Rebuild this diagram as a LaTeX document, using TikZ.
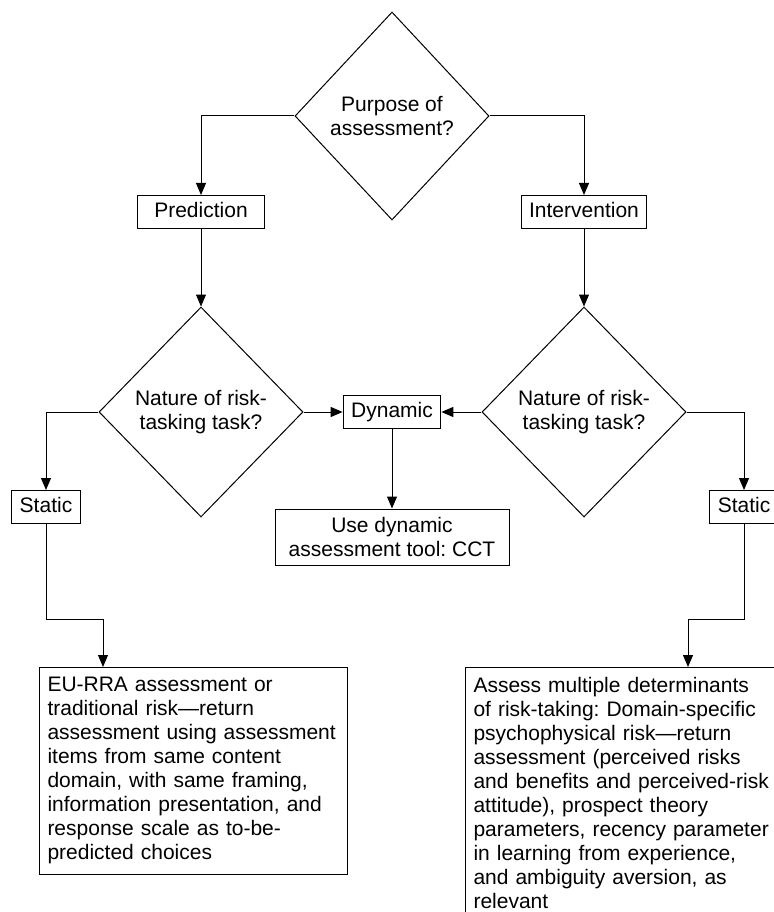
\documentclass[tikz,border=0pt]{standalone}
\usepackage{fontspec}
\setmainfont{Liberation Sans}
\frenchspacing
\usetikzlibrary{shapes.geometric}
\usetikzlibrary{arrows.meta}
\tikzstyle{dx}=[draw,diamond,inner sep=0pt,minimum width=204pt,minimum height=210pt,align=center]
\tikzstyle{bx}=[draw,rectangle,inner xsep=8pt,minimum height=33pt,text height=15pt,text depth=4pt]
\tikzstyle{tx}=[draw,rectangle,inner xsep=8pt,inner ysep=10pt,align=left,anchor=north west]
\tikzstyle{ar}=[-{Triangle[length=12pt,width=10pt]}]

\begin{document}
\begin{tikzpicture}[x=1pt,y=-1pt,line width=1pt,font=\fontsize{21}{24}\selectfont]
      \useasboundingbox (0,0) rectangle (773,912);
      \node [dx, minimum width=194pt, minimum height=208pt] (purpose) at (392,116) {Purpose of\\assessment?};
      \node [bx, minimum width=127pt] (predict) at (201,212) {Prediction};
      \node [bx] (interv) at (584,212) {Intervention};
      \node [dx] (nat1) at (201,412) {Nature of risk-\\tasking task?};
      \node [dx] (nat2) at (584,412) {Nature of risk-\\tasking task?};
      \node [bx] (dyn) at (392,412) {Dynamic};
      \node [draw, align=center, minimum width=234pt, minimum height=56pt] (cct) at (392,537) {Use dynamic\\assessment tool: CCT};
      \node [bx] (stat1) at (46,507) {Static};
      \node [bx] (stat2) at (744,507) {Static};
      \node [tx, text width=292pt] (eurra) at (39,667) {EU-RRA assessment or\\traditional risk---return\\assessment using assessment\\items from same content\\domain, with same framing,\\information presentation, and\\response scale as to-be-\\predicted choices};
      \node [tx, text width=298pt] (assess) at (465,667) {Assess multiple determinants\\of risk-taking: Domain-specific\\psychophysical risk---return\\assessment (perceived risks\\and benefits and perceived-risk\\attitude), prospect theory\\parameters, recency parameter\\in learning from experience,\\and ambiguity aversion, as\\relevant};
      \coordinate (j1) at (103,619);
      \coordinate (j2) at (688,619);
      \path [draw, ar] (purpose) -| (predict);
      \path [draw, ar] (purpose) -| (interv);
      \path [draw, ar] (predict) -- (nat1);
      \path [draw, ar] (interv) -- (nat2);
      \path [draw, ar] (nat1) -- (dyn);
      \path [draw, ar] (nat2) -- (dyn);
      \path [draw, ar] (dyn) -- (cct);
      \path [draw, ar] (nat1) -| (stat1);
      \path [draw, ar] (nat2) -| (stat2);
      \path [draw, ar] (stat1) |- (j1) -- (j1 |- eurra.north);
      \path [draw, ar] (stat2) |- (j2) -- (j2 |- assess.north);
\end{tikzpicture}
\end{document}
